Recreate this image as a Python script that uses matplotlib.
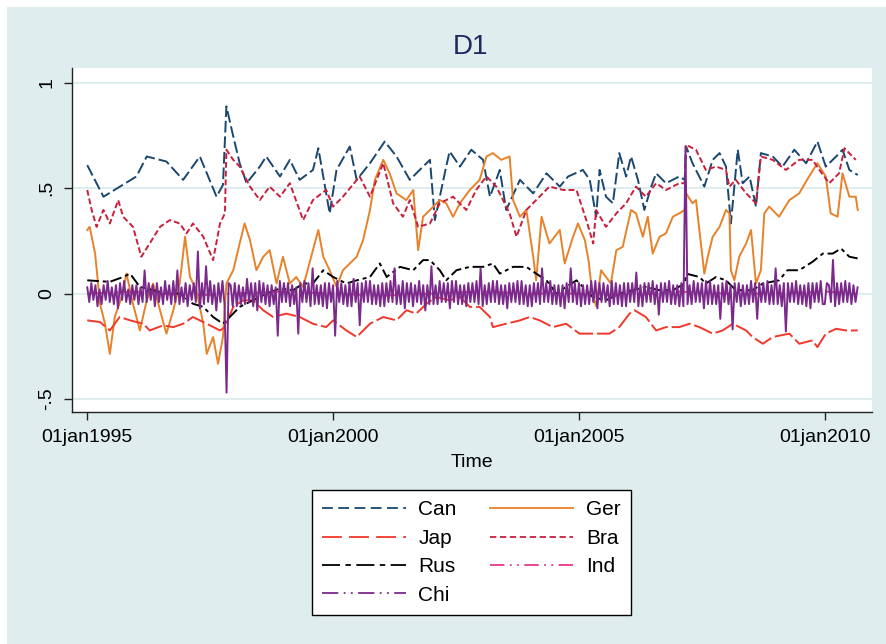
import numpy as np
import matplotlib.pyplot as plt
from matplotlib.patches import Rectangle
from matplotlib.lines import Line2D

plt.rcParams['font.family'] = ['Liberation Sans', 'DejaVu Sans']

# ---- data (decimal years) ----
can_t = [1995.0, 1995.33, 1996.0, 1996.21, 1996.61, 1996.95, 1997.29, 1997.63, 1997.76, 1997.83,
         1997.97, 1998.1, 1998.24, 1998.51, 1998.64, 1998.92, 1999.12, 1999.32, 1999.59, 1999.7,
         1999.93, 2000.07, 2000.34, 2000.48, 2000.75, 2001.05, 2001.29, 2001.56, 2001.76, 2001.97,
         2002.07, 2002.3, 2002.37, 2002.58, 2002.81, 2003.05, 2003.19, 2003.39, 2003.52, 2003.8,
         2004.07, 2004.34, 2004.61, 2004.78, 2005.08, 2005.22, 2005.35, 2005.42, 2005.55, 2005.69,
         2005.82, 2005.96, 2006.06, 2006.2, 2006.33, 2006.47, 2006.57, 2006.77, 2007.04, 2007.15,
         2007.18, 2007.31, 2007.55, 2007.72, 2007.86, 2007.99, 2008.09, 2008.23, 2008.33, 2008.47,
         2008.6, 2008.7, 2008.94, 2009.14, 2009.38, 2009.62, 2009.85, 2010.02, 2010.23, 2010.36,
         2010.5, 2010.67]
can_v = [0.61, 0.46, 0.556, 0.651, 0.627, 0.54, 0.651, 0.46, 0.516, 0.889,
         0.746, 0.619, 0.524, 0.603, 0.651, 0.556, 0.635, 0.54, 0.587, 0.69,
         0.381, 0.587, 0.698, 0.54, 0.619, 0.722, 0.651, 0.54, 0.587, 0.635,
         0.349, 0.603, 0.675, 0.603, 0.683, 0.635, 0.46, 0.587, 0.397, 0.54,
         0.476, 0.571, 0.508, 0.556, 0.587, 0.54, 0.365, 0.587, 0.46, 0.429,
         0.667, 0.556, 0.651, 0.54, 0.397, 0.508, 0.571, 0.524, 0.556, 0.54,
         0.698, 0.619, 0.508, 0.635, 0.667, 0.603, 0.333, 0.683, 0.524, 0.556,
         0.413, 0.667, 0.651, 0.603, 0.683, 0.619, 0.722, 0.603, 0.651, 0.683,
         0.587, 0.563]

ger_t = [1995.0, 1995.05, 1995.16, 1995.26, 1995.36, 1995.46, 1995.56, 1995.7, 1995.8, 1995.93,
         1996.07, 1996.21, 1996.34, 1996.48, 1996.61, 1996.75, 1996.88, 1996.99, 1997.09, 1997.22,
         1997.36, 1997.43, 1997.56, 1997.66, 1997.76, 1997.83, 1997.97, 1998.1, 1998.2, 1998.31,
         1998.44, 1998.58, 1998.71, 1998.85, 1998.98, 1999.12, 1999.25, 1999.39, 1999.59, 1999.7,
         1999.8, 1999.93, 2000.07, 2000.2, 2000.34, 2000.48, 2000.61, 2000.75, 2000.85, 2001.02,
         2001.15, 2001.29, 2001.49, 2001.63, 2001.73, 2001.83, 2001.97, 2002.17, 2002.3, 2002.44,
         2002.58, 2002.78, 2002.98, 2003.12, 2003.25, 2003.42, 2003.59, 2003.66, 2003.8, 2003.93,
         2004.07, 2004.13, 2004.24, 2004.4, 2004.61, 2004.71, 2004.88, 2004.98, 2005.12, 2005.2,
         2005.27, 2005.35, 2005.45, 2005.55, 2005.65, 2005.76, 2005.89, 2006.06, 2006.16, 2006.3,
         2006.4, 2006.5, 2006.64, 2006.77, 2006.91, 2007.04, 2007.15, 2007.18, 2007.31, 2007.38,
         2007.48, 2007.55, 2007.62, 2007.72, 2007.86, 2007.99, 2008.06, 2008.09, 2008.16, 2008.26,
         2008.4, 2008.5, 2008.6, 2008.7, 2008.77, 2008.87, 2009.07, 2009.28, 2009.48, 2009.68,
         2009.85, 2010.02, 2010.12, 2010.26, 2010.36, 2010.5, 2010.63, 2010.67]
ger_v = [0.302, 0.317, 0.19, -0.048, -0.143, -0.286, -0.111, -0.016, 0.095, -0.048,
         -0.175, -0.032, 0.048, -0.079, -0.19, -0.079, 0.048, 0.27, 0.079, 0.016,
         -0.143, -0.286, -0.206, -0.333, -0.206, 0.048, 0.111, 0.238, 0.333, 0.254,
         0.111, 0.175, 0.206, 0.048, 0.175, 0.048, 0.079, 0.032, 0.206, 0.302,
         0.175, 0.111, 0.032, 0.111, 0.143, 0.175, 0.254, 0.397, 0.54, 0.635,
         0.571, 0.476, 0.444, 0.492, 0.206, 0.365, 0.397, 0.444, 0.429, 0.365,
         0.429, 0.492, 0.54, 0.651, 0.667, 0.635, 0.651, 0.444, 0.365, 0.397,
         0.175, 0.063, 0.365, 0.238, 0.302, 0.143, 0.27, 0.333, 0.254, 0.15,
         0.0, -0.06, 0.111, 0.079, 0.048, 0.206, 0.222, 0.397, 0.381, 0.27,
         0.365, 0.19, 0.27, 0.286, 0.365, 0.381, 0.397, 0.476, 0.429, 0.444,
         0.238, 0.095, 0.175, 0.27, 0.317, 0.397, 0.381, 0.111, 0.063, 0.175,
         0.238, 0.302, 0.048, 0.111, 0.381, 0.413, 0.365, 0.444, 0.476, 0.556,
         0.619, 0.556, 0.381, 0.365, 0.571, 0.46, 0.46, 0.397]

jap_t = [1995.0, 1995.26, 1995.46, 1995.66, 1995.87, 1996.14, 1996.27, 1996.54, 1996.75, 1996.95,
         1997.15, 1997.43, 1997.7, 1997.8, 1997.97, 1998.17, 1998.37, 1998.58, 1998.78, 1999.05,
         1999.32, 1999.59, 1999.86, 2000.0, 2000.27, 2000.48, 2000.75, 2001.02, 2001.29, 2001.49,
         2001.69, 2001.9, 2002.1, 2002.37, 2002.58, 2002.78, 2002.98, 2003.19, 2003.25, 2003.52,
         2003.8, 2004.0, 2004.2, 2004.47, 2004.74, 2005.01, 2005.21, 2005.42, 2005.62, 2005.82,
         2006.03, 2006.13, 2006.36, 2006.57, 2006.77, 2007.04, 2007.25, 2007.45, 2007.72, 2007.92,
         2008.13, 2008.4, 2008.53, 2008.74, 2008.94, 2009.28, 2009.48, 2009.75, 2009.85, 2010.02,
         2010.23, 2010.43, 2010.67]
jap_v = [-0.127, -0.135, -0.175, -0.111, -0.127, -0.143, -0.175, -0.151, -0.159, -0.143,
         -0.111, -0.143, -0.175, -0.159, -0.063, -0.032, -0.032, -0.079, -0.111, -0.095,
         -0.111, -0.143, -0.159, -0.127, -0.175, -0.206, -0.143, -0.111, -0.127, -0.079,
         -0.095, -0.048, -0.016, -0.032, -0.016, -0.063, -0.063, -0.111, -0.159, -0.143,
         -0.127, -0.111, -0.127, -0.159, -0.143, -0.19, -0.19, -0.19, -0.19, -0.159,
         -0.095, -0.079, -0.111, -0.175, -0.159, -0.159, -0.143, -0.159, -0.19, -0.175,
         -0.143, -0.175, -0.206, -0.238, -0.206, -0.19, -0.238, -0.222, -0.254, -0.19,
         -0.167, -0.175, -0.175]

bra_t = [1995.0, 1995.09, 1995.19, 1995.33, 1995.46, 1995.63, 1995.73, 1995.93, 1996.1, 1996.27,
         1996.48, 1996.68, 1996.88, 1997.02, 1997.15, 1997.36, 1997.56, 1997.7, 1997.8, 1997.83,
         1997.97, 1998.1, 1998.31, 1998.51, 1998.71, 1998.92, 1999.12, 1999.39, 1999.59, 1999.86,
         2000.0, 2000.2, 2000.54, 2000.75, 2001.02, 2001.22, 2001.42, 2001.56, 2001.73, 2001.97,
         2002.17, 2002.44, 2002.71, 2002.91, 2003.12, 2003.32, 2003.59, 2003.73, 2003.93, 2004.13,
         2004.4, 2004.68, 2004.95, 2005.15, 2005.29, 2005.35, 2005.55, 2005.76, 2005.96, 2006.16,
         2006.36, 2006.57, 2006.77, 2007.04, 2007.15, 2007.18, 2007.38, 2007.58, 2007.79, 2007.99,
         2008.06, 2008.19, 2008.4, 2008.6, 2008.7, 2008.94, 2009.21, 2009.48, 2009.75, 2009.89,
         2010.09, 2010.29, 2010.4, 2010.63]
bra_v = [0.492, 0.397, 0.317, 0.397, 0.333, 0.444, 0.365, 0.317, 0.175, 0.238,
         0.317, 0.349, 0.333, 0.286, 0.333, 0.27, 0.159, 0.333, 0.381, 0.683,
         0.635, 0.603, 0.508, 0.444, 0.508, 0.46, 0.524, 0.349, 0.444, 0.492,
         0.413, 0.46, 0.556, 0.46, 0.619, 0.429, 0.365, 0.444, 0.317, 0.333,
         0.429, 0.46, 0.397, 0.492, 0.556, 0.508, 0.381, 0.27, 0.397, 0.444,
         0.508, 0.492, 0.492, 0.349, 0.238, 0.397, 0.317, 0.381, 0.429, 0.508,
         0.46, 0.524, 0.492, 0.524, 0.524, 0.706, 0.683, 0.587, 0.603, 0.587,
         0.508, 0.54, 0.476, 0.429, 0.651, 0.635, 0.587, 0.635, 0.635, 0.587,
         0.524, 0.571, 0.69, 0.635]

rus_t = [1995.0, 1995.46, 1995.73, 1995.87, 1996.07, 1996.34, 1996.61, 1996.88, 1997.15, 1997.36,
         1997.56, 1997.76, 1997.9, 1998.1, 1998.37, 1998.64, 1998.92, 1999.19, 1999.39, 1999.59,
         1999.8, 2000.0, 2000.27, 2000.48, 2000.75, 2000.95, 2001.09, 2001.36, 2001.63, 2001.83,
         2001.97, 2002.17, 2002.3, 2002.51, 2002.78, 2003.05, 2003.25, 2003.39, 2003.66, 2003.93,
         2004.13, 2004.34, 2004.54, 2004.74, 2004.95, 2005.28, 2005.55, 2005.82, 2006.09, 2006.36,
         2006.64, 2006.91, 2007.15, 2007.18, 2007.45, 2007.58, 2007.79, 2007.99, 2008.19, 2008.53,
         2008.74, 2009.07, 2009.24, 2009.48, 2009.75, 2009.96, 2010.16, 2010.33, 2010.5, 2010.67]
rus_v = [0.063, 0.056, 0.079, 0.095, 0.032, 0.016, 0.0, 0.0, -0.048, -0.063,
         -0.111, -0.143, -0.111, -0.063, -0.032, 0.0, 0.024, 0.016, 0.048, 0.048,
         0.111, 0.079, 0.048, 0.063, 0.079, 0.143, 0.079, 0.127, 0.111, 0.159,
         0.159, 0.111, 0.063, 0.111, 0.127, 0.127, 0.143, 0.095, 0.127, 0.127,
         0.095, 0.063, 0.0, 0.032, 0.063, -0.016, -0.032, 0.0, 0.016, 0.032,
         0.016, 0.016, 0.048, 0.095, 0.079, 0.048, 0.079, 0.063, 0.016, 0.016,
         0.048, 0.063, 0.111, 0.111, 0.151, 0.19, 0.19, 0.214, 0.175, 0.167]

ind_t = [1995.0, 1996.0, 1997.0, 1998.0, 1999.0, 2000.0, 2001.0, 2002.0, 2003.0, 2004.0,
         2005.0, 2006.0, 2007.0, 2008.0, 2009.0, 2010.0, 2010.67]
ind_v = [0.0, 0.01, -0.01, 0.0, 0.01, 0.0, -0.01, 0.0, 0.01, 0.0,
         0.0, -0.01, 0.01, 0.0, 0.0, 0.01, 0.0]

# Chi: half-monthly readings starting Jan 1995 (one row per year)
chi_v = [
    0.03, -0.04, 0.05, -0.03, 0.04, -0.06, 0.02, -0.05, 0.04, -0.03, 0.06, -0.04,
    0.03, -0.05, 0.04, -0.07, 0.05, -0.03, 0.06, -0.04, 0.02, -0.05, 0.04, -0.03,
    0.04, -0.05, 0.03, -0.04, 0.11, -0.04, 0.05, -0.03, 0.04, -0.06, 0.05, -0.04,
    0.03, -0.05, 0.06, -0.03, 0.04, -0.05, 0.06, -0.04, 0.11, -0.05, 0.03, -0.04,
    0.05, -0.06, 0.04, -0.03, 0.05, -0.04, 0.20, -0.07, 0.05, -0.05, 0.13, -0.04,
    0.06, -0.05, 0.04, -0.08, 0.05, -0.04, 0.06, -0.05, -0.47, 0.05, 0.04, -0.06,
    0.05, -0.06, 0.04, -0.05, 0.03, -0.05, 0.07, -0.04, 0.05, -0.06, 0.05, -0.08,
    0.06, -0.04, 0.05, -0.05, 0.04, -0.06, 0.04, -0.05, 0.03, -0.20, 0.06, -0.04,
    0.05, -0.04, 0.05, -0.06, 0.04, -0.05, 0.03, -0.19, 0.05, -0.04, 0.06, -0.04,
    0.05, -0.06, 0.12, -0.05, 0.04, -0.05, 0.04, -0.06, 0.05, -0.07, 0.05, -0.04,
    0.04, -0.20, 0.06, -0.04, 0.05, -0.05, 0.04, -0.06, 0.05, -0.06, 0.07, -0.04,
    0.05, -0.15, 0.05, -0.04, 0.06, -0.04, 0.06, -0.05, 0.04, -0.05, 0.04, -0.06,
    0.05, -0.06, 0.05, -0.04, 0.06, -0.04, 0.12, -0.05, 0.04, -0.05, 0.06, -0.07,
    0.05, -0.04, 0.05, -0.06, 0.04, -0.04, 0.06, -0.05, 0.04, -0.08, 0.04, -0.05,
    0.13, -0.05, 0.04, -0.05, 0.06, -0.04, 0.05, -0.04, 0.05, -0.07, 0.06, -0.04,
    0.06, -0.05, 0.04, -0.05, 0.04, -0.06, 0.05, -0.04, 0.05, -0.04, 0.06, -0.05,
    0.12, -0.06, 0.04, -0.05, 0.05, -0.04, 0.06, -0.04, 0.06, -0.05, 0.04, -0.05,
    0.04, -0.07, 0.05, -0.04, 0.05, -0.04, 0.06, -0.05, 0.06, -0.05, 0.04, -0.06,
    0.04, -0.06, 0.05, -0.04, 0.05, -0.05, 0.12, -0.04, 0.05, -0.04, 0.06, -0.05,
    0.04, -0.05, 0.04, -0.06, 0.04, -0.07, 0.05, -0.04, 0.12, -0.04, 0.05, -0.05,
    0.05, -0.06, 0.04, -0.05, 0.04, -0.05, 0.06, -0.04, 0.06, -0.07, 0.05, -0.04,
    0.05, -0.04, 0.04, -0.06, 0.06, -0.05, 0.05, -0.05, 0.04, -0.06, 0.05, -0.06,
    0.05, -0.04, 0.05, -0.04, 0.10, -0.06, 0.04, -0.06, 0.05, -0.04, 0.05, -0.04,
    0.06, -0.05, 0.04, -0.10, 0.05, -0.04, 0.05, -0.04, 0.06, -0.05, 0.04, -0.05,
    0.04, -0.06, 0.05, -0.06, 0.70, -0.05, 0.04, -0.05, 0.06, -0.04, 0.05, -0.04,
    0.05, -0.07, 0.06, -0.05, 0.06, -0.05, 0.04, -0.05, 0.04, -0.12, 0.05, -0.04,
    0.06, -0.05, 0.04, -0.17, 0.05, -0.04, 0.05, -0.06, 0.04, -0.05, 0.04, -0.05,
    0.06, -0.04, 0.05, -0.12, 0.05, -0.04, 0.05, -0.04, 0.06, -0.05, 0.04, -0.05,
    0.12, -0.05, 0.04, -0.06, 0.05, -0.18, 0.05, -0.04, 0.05, -0.04, 0.06, -0.05,
    0.04, -0.05, 0.04, -0.06, 0.05, -0.07, 0.05, -0.04, 0.05, -0.04, 0.06, -0.05,
    -0.05, 0.05, 0.04, -0.04, 0.16, -0.06, 0.05, -0.05, 0.05, -0.04, 0.06, -0.04,
    0.05, -0.05, 0.04, -0.04, 0.03]
chi_t = 1995 + np.arange(len(chi_v)) / 24

year_ticks = [1995, 2000, 2005, 2010]
year_labels = ['01jan1995', '01jan2000', '01jan2005', '01jan2010']
y_ticks = [-0.5, 0, 0.5, 1]
y_labels = ['-.5', '0', '.5', '1']

bg = '#e0edee'

# name, colour, dash style in plot, dash style in legend
styles = {
    'Can': ('#1a476f', (0, (6, 2)), (0, (6, 3))),
    'Ger': ('#e8822a', '-', '-'),
    'Jap': ('#f0382b', (0, (10, 2)), (0, (11, 4))),
    'Bra': ('#c8203c', (0, (3, 1.5)), (0, (3.5, 2))),
    'Rus': ('black', (0, (6, 2, 2, 2)), (0, (10, 3, 3, 3))),
    'Ind': ('#e8388a', (0, (8, 3, 1, 3, 1, 3)), (0, (8, 3, 1, 3, 1, 3))),
    'Chi': ('#7b2a8c', '-', (0, (9, 3, 1, 3, 1, 3))),
}

fig = plt.figure(figsize=(8.87, 6.44), dpi=100, facecolor=bg)
# thin white strip on the top and left edges
fig.patches.append(Rectangle((0, 1 - 7 / 644), 1, 7 / 644, transform=fig.transFigure,
                             facecolor='white', edgecolor='none', zorder=0))
fig.patches.append(Rectangle((0, 0), 7 / 887, 1, transform=fig.transFigure,
                             facecolor='white', edgecolor='none', zorder=0))
ax = fig.add_axes([72 / 887, 1 - 412 / 644, 800 / 887, 344 / 644])
ax.set_facecolor('white')

lw = 1.4
series = [('Can', can_t, can_v), ('Ger', ger_t, ger_v), ('Jap', jap_t, jap_v),
          ('Bra', bra_t, bra_v), ('Rus', rus_t, rus_v), ('Ind', ind_t, ind_v),
          ('Chi', chi_t, chi_v)]
for name, t, v in series:
    c, ls_plot, _ = styles[name]
    ax.plot(t, v, color=c, lw=lw, ls=ls_plot)

ax.set_xlim(1994.69, 2010.96)
ax.set_ylim(-0.562, 1.071)
ax.set_xticks(year_ticks)
ax.set_xticklabels(year_labels, fontsize=14)
ax.set_yticks(y_ticks)
ax.set_yticklabels(y_labels, fontsize=14, rotation=90, va='center')
ax.grid(axis='y', color=bg, lw=1.5)
ax.set_axisbelow(True)
ax.tick_params(length=6, width=1, color='#222222', pad=6)
for s in ['top', 'right']:
    ax.spines[s].set_visible(False)
for s in ['left', 'bottom']:
    ax.spines[s].set_color('#222222')
    ax.spines[s].set_linewidth(1)
ax.set_xlabel('Time', fontsize=14, labelpad=6)

fig.text(471 / 887, 1 - 47 / 644, 'D1', ha='center', va='center', fontsize=20, color='#1e2a5e')

leg_order = ['Can', 'Jap', 'Rus', 'Chi', 'Ger', 'Bra', 'Ind']
handles = [Line2D([], [], color=styles[n][0], lw=1.3, ls=styles[n][2]) for n in leg_order]
leg = fig.legend(handles, leg_order, ncol=2,
                 loc='center', bbox_to_anchor=(471.5 / 887, 1 - 552.5 / 644),
                 fontsize=15, handlelength=4.0, handletextpad=0.6, columnspacing=1.6,
                 labelspacing=0.45, fancybox=False, edgecolor='black', framealpha=1,
                 borderpad=0.5)
leg.get_frame().set_linewidth(1)

fig.savefig('out.png', dpi=100, facecolor=bg)
